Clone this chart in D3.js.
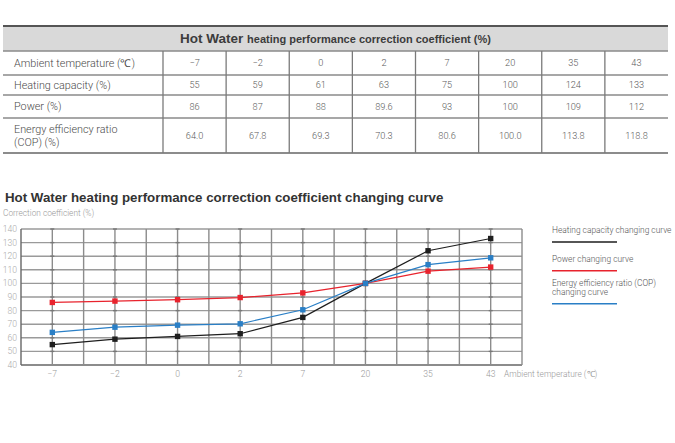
<!DOCTYPE html>
<html><head><meta charset="utf-8">
<script src="https://cdn.jsdelivr.net/npm/d3@7/dist/d3.min.js"></script>
<style>
html,body{margin:0;padding:0;background:#fff;}
svg{display:block;}
</style></head>
<body>
<svg id="c" width="675" height="443"></svg>
<script>
const categories = ["\u22127","\u22122","0","2","7","20","35","43"];
const heating = [55,59,61,63,75,100,124,133];
const power = [86,87,88,89.6,93,100,109,112];
const cop = [64.0,67.8,69.3,70.3,80.6,100.0,113.8,118.8];
const yTicks = [40,50,60,70,80,90,100,110,120,130,140];
const rowLabels = [["Ambient temperature (\u2103)"],["Heating capacity (%)"],["Power (%)"],["Energy efficiency ratio","(COP) (%)"]];
const seriesNames = [["Heating capacity changing curve"],["Power changing curve"],["Energy efficiency ratio (COP)","changing curve"]];
const colors = ["#1e1e1e","#e8232d","#2a7fc6"];

const svg = d3.select("#c");
const FB = "'Liberation Sans', Arial, sans-serif";
const FL = "Roboto, 'Liberation Sans', sans-serif";

// ---------- TABLE ----------
const tL = 3, tC = 163, tR = 668;
const rowY = [26, 51, 75, 95, 118, 153];
const colX = d3.scaleBand().domain(categories).range([tC, tR]);
svg.append("rect").attr("x",tL).attr("y",rowY[0]).attr("width",tR-tL).attr("height",rowY[1]-rowY[0]).attr("fill","#d9d9d9");
const ht = svg.append("text").attr("x",(tL+tR)/2).attr("y",43).attr("text-anchor","middle")
  .attr("font-family",FB).attr("font-weight","bold").attr("fill","#3c3c3c");
ht.append("tspan").attr("font-size",13.5).text("Hot Water ");
ht.append("tspan").attr("font-size",11).text("heating performance correction coefficient (%)");
rowY.forEach((yy,i)=>{
  const first = i===0, last = i===rowY.length-1;
  svg.append("line").attr("x1",tL).attr("x2",tR).attr("y1",yy).attr("y2",yy)
    .attr("stroke", first? "#555" : last? "#666" : "#8a8a8a")
    .attr("stroke-width", first? 2 : last? 1.6 : 1.3);
});
[tC, ...categories.slice(1).map(c=>colX(c))].forEach(xx=>{
  svg.append("line").attr("x1",xx).attr("x2",xx).attr("y1",rowY[1]).attr("y2",rowY[5])
    .attr("stroke","#7a7a7a").attr("stroke-width",1.3);
});
rowLabels.forEach((lines,i)=>{
  const cy = (rowY[i+1]+rowY[i+2])/2;
  const n = lines.length;
  lines.forEach((t,j)=>{
    svg.append("text").attr("x",14).attr("y",cy + 3.8 + (j-(n-1)/2)*12.5)
      .attr("font-family",FL).attr("font-weight",300).attr("font-size",10.8).attr("fill","#4a4a4a").text(t);
  });
});
const tableRows = [categories, heating.map(String), power.map(String), cop.map(v=>v.toFixed(1))];
tableRows.forEach((vals,i)=>{
  const cy = (rowY[i+1]+rowY[i+2])/2;
  svg.selectAll(null).data(vals).enter().append("text")
    .attr("x",(d,k)=>colX(categories[k])+colX.bandwidth()/2)
    .attr("y",cy+3.2).attr("text-anchor","middle")
    .attr("font-family",FL).attr("font-weight",300).attr("font-size",9.2).attr("fill","#5a5a5a").text(d=>d);
});

// ---------- CHART ----------
svg.append("text").attr("x",5).attr("y",202).attr("font-family",FB).attr("font-weight","bold")
  .attr("font-size",13.3).attr("fill","#333").text("Hot Water heating performance correction coefficient changing curve");
svg.append("text").attr("x",3).attr("y",216).attr("font-family",FL).attr("font-weight",300)
  .attr("font-size",8.3).attr("fill","#999").text("Correction coefficient (%)");

const pL = 21, pR = 522, pT = 229, pB = 365;
const x = d3.scaleBand().domain(categories).range([pL,pR]);
const bw = x.bandwidth();
const y = d3.scaleLinear().domain([40,140]).range([pB,pT]);
const cx = c => x(c)+bw/2;

const g = svg.append("g");
g.selectAll(null).data(yTicks).enter().append("line")
  .attr("x1",pL).attr("x2",pR).attr("y1",d=>y(d)).attr("y2",d=>y(d))
  .attr("stroke",d=>d===40?"#666":"#9a9a9a").attr("stroke-width",1.4);
const vx = [];
categories.forEach(c=>{ vx.push(x(c)); vx.push(cx(c)); });
vx.push(pR);
g.selectAll(null).data(vx).enter().append("line")
  .attr("x1",d=>d).attr("x2",d=>d).attr("y1",pT).attr("y2",pB)
  .attr("stroke",(d,i)=> i===0 ? "#666" : "#8c8c8c").attr("stroke-width",1.4);
categories.forEach(c=>{
  yTicks.slice(1).forEach(t=>{
    g.append("line").attr("x1",cx(c)-2).attr("x2",cx(c)+2).attr("y1",y(t)).attr("y2",y(t))
      .attr("stroke","#777").attr("stroke-width",1.4);
  });
});

svg.selectAll(null).data(yTicks).enter().append("text")
  .attr("x",17).attr("y",d=>y(d)+3).attr("text-anchor","end")
  .attr("font-family",FL).attr("font-weight",300).attr("font-size",8.6).attr("fill","#aaa").text(d=>d);
svg.selectAll(null).data(categories).enter().append("text")
  .attr("x",d=>cx(d)).attr("y",377).attr("text-anchor","middle")
  .attr("font-family",FL).attr("font-weight",300).attr("font-size",8.6).attr("fill","#999").text(d=>d);
svg.append("text").attr("x",504).attr("y",377).attr("font-family",FL).attr("font-weight",300)
  .attr("font-size",8.4).attr("fill","#999").text("Ambient temperature (\u2103)");

const series = [heating, power, cop];
const line = d3.line().x((d,i)=>cx(categories[i])).y(d=>y(d));
series.forEach((s,k)=>{
  svg.append("path").datum(s).attr("d",line).attr("fill","none")
    .attr("stroke",colors[k]).attr("stroke-width",1.2);
});
series.forEach((s,k)=>{
  svg.selectAll(null).data(s).enter().append("rect")
    .attr("x",(d,i)=>cx(categories[i])-2.7).attr("y",d=>y(d)-2.7)
    .attr("width",5.4).attr("height",5.4).attr("fill",colors[k]);
});

const legTextY = [[233],[262],[285.7,295]];
const legLineY = [242, 270.7, 303.7];
seriesNames.forEach((lines,k)=>{
  lines.forEach((t,j)=>{
    svg.append("text").attr("x",552).attr("y",legTextY[k][j]).attr("font-family",FL).attr("font-weight",300)
      .attr("font-size",8.4).attr("fill","#555").text(t);
  });
  svg.append("line").attr("x1",552).attr("x2",617).attr("y1",legLineY[k]).attr("y2",legLineY[k])
    .attr("stroke",colors[k]).attr("stroke-width",1.4);
});
</script>
</body></html>
